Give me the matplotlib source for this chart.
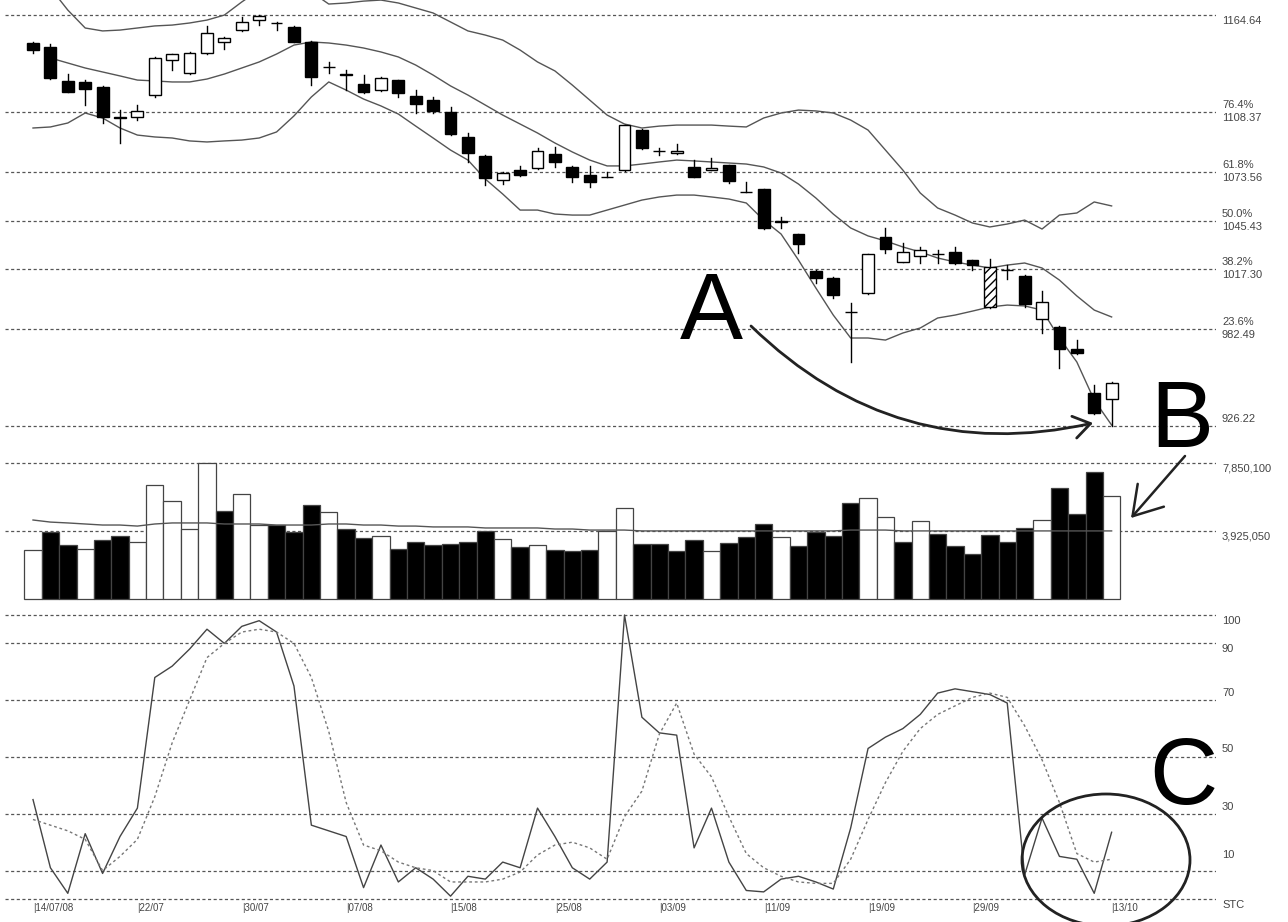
import numpy as np
import matplotlib
matplotlib.use('Agg')
import matplotlib.pyplot as plt
from matplotlib.patches import Rectangle, Ellipse

FONT = ['Liberation Sans', 'DejaVu Sans']

# ---- price data (63 sessions) ----
opens = [1148.4, 1146.1, 1126.4, 1125.8, 1122.9, 1105.2, 1105.5, 1118.2, 1138.5, 1131.0,
         1142.6, 1149.0, 1155.9, 1161.7, 1160.0, 1157.7, 1149.0, 1134.5, 1130.4, 1124.6,
         1121.1, 1126.9, 1117.7, 1115.3, 1108.4, 1093.9, 1082.9, 1068.9, 1074.7, 1075.9,
         1084.0, 1076.5, 1071.8, 1070.9, 1074.7, 1097.9, 1085.8, 1084.4, 1076.5, 1075.0,
         1077.6, 1062.2, 1063.7, 1045.2, 1037.6, 1016.2, 1012.1, 992.4, 1003.4, 1035.9,
         1021.4, 1024.9, 1026.0, 1027.2, 1022.5, 995.3, 1016.9, 1013.3, 988.3, 983.7,
         970.9, 945.4, 941.9]
highs = [1149.0, 1147.8, 1130.4, 1126.9, 1123.3, 1109.5, 1112.4, 1140.0, 1142.3, 1142.9,
         1158.3, 1151.6, 1163.5, 1164.64, 1160.6, 1158.0, 1149.6, 1137.4, 1132.7, 1129.8,
         1128.4, 1127.2, 1121.1, 1117.1, 1111.3, 1096.2, 1083.2, 1073.3, 1077.1, 1087.5,
         1088.1, 1076.8, 1077.1, 1073.6, 1101.1, 1098.5, 1087.5, 1089.8, 1080.5, 1081.7,
         1077.9, 1067.8, 1064.0, 1047.5, 1037.9, 1016.5, 1012.4, 997.6, 1026.3, 1041.1,
         1032.4, 1030.1, 1028.3, 1030.1, 1022.8, 1023.1, 1019.6, 1013.6, 1004.6, 984.0,
         976.1, 950.0, 951.5]
lows = [1142.6, 1127.8, 1119.7, 1112.4, 1102.0, 1090.4, 1103.7, 1117.1, 1132.7, 1130.7,
        1142.3, 1144.9, 1155.6, 1158.8, 1155.9, 1148.7, 1124.0, 1131.0, 1121.1, 1119.4,
        1120.8, 1117.1, 1107.8, 1107.8, 1095.3, 1079.4, 1066.0, 1066.6, 1071.5, 1075.6,
        1076.5, 1067.8, 1064.9, 1070.5, 1074.4, 1087.2, 1083.4, 1083.8, 1070.4, 1074.8,
        1067.2, 1061.8, 1040.8, 1041.1, 1026.6, 1009.2, 1000.5, 963.4, 1003.1, 1026.6,
        1021.1, 1020.8, 1020.8, 1020.5, 1016.7, 994.8, 1011.5, 995.3, 980.2, 959.9,
        968.3, 933.5, 926.22]
closes = [1144.3, 1128.1, 1120.0, 1121.7, 1105.5, 1104.9, 1108.9, 1139.7, 1142.0, 1142.6,
          1154.2, 1151.3, 1160.6, 1164.1, 1160.2, 1149.0, 1128.7, 1134.2, 1130.1, 1120.0,
          1128.1, 1119.4, 1113.0, 1108.9, 1095.6, 1084.6, 1070.1, 1073.0, 1071.8, 1085.8,
          1079.4, 1070.7, 1067.8, 1070.7, 1100.8, 1087.5, 1085.7, 1085.5, 1070.7, 1076.0,
          1068.4, 1062.0, 1041.1, 1044.6, 1031.8, 1012.1, 1002.2, 992.2, 1026.0, 1028.9,
          1027.2, 1028.3, 1025.8, 1020.8, 1019.6, 1018.5, 1016.7, 997.3, 997.9, 970.9,
          968.6, 933.8, 951.2]
hatched = [55]

# bollinger bands
bb_upper = [1193.6, 1180.3, 1167.5, 1157.1, 1155.4, 1155.9, 1157.1, 1158.3, 1158.8, 1160.0,
            1161.7, 1164.6, 1172.2, 1179.1, 1183.8, 1182.0, 1178.0, 1171.0, 1171.6, 1172.7,
            1173.3, 1171.6, 1168.7, 1165.8, 1160.6, 1155.4, 1153.0, 1150.1, 1144.3, 1137.4,
            1132.2, 1124.0, 1115.3, 1106.6, 1101.4, 1099.1, 1100.2, 1100.8, 1100.8, 1100.8,
            1100.2, 1099.7, 1104.9, 1107.8, 1109.5, 1109.0, 1107.8, 1103.7, 1097.9, 1086.3,
            1074.7, 1061.4, 1052.7, 1048.6, 1044.0, 1041.7, 1043.4, 1045.7, 1040.5, 1048.6,
            1049.8, 1056.2, 1053.9]
bb_mid = [np.nan, 1139.7, 1136.8, 1133.9, 1131.6, 1129.3, 1126.9, 1126.4, 1125.8, 1125.8,
          1127.5, 1130.4, 1133.9, 1137.4, 1142.0, 1147.2, 1149.0, 1148.4, 1147.2, 1145.5,
          1143.2, 1140.3, 1135.6, 1129.8, 1123.5, 1118.2, 1112.4, 1106.6, 1101.4, 1096.2,
          1090.4, 1085.2, 1080.5, 1077.1, 1077.1, 1078.2, 1079.4, 1080.5, 1080.0, 1079.4,
          1078.8, 1078.2, 1076.5, 1073.0, 1066.6, 1058.5, 1049.2, 1041.1, 1036.5, 1033.6,
          1030.1, 1027.2, 1023.7, 1021.4, 1019.6, 1017.9, 1019.6, 1020.8, 1017.9, 1010.9,
          1001.7, 993.5, 989.5]
bb_lower = [1099.1, 1099.7, 1102.0, 1107.8, 1104.9, 1099.1, 1095.0, 1093.9, 1093.3, 1091.6,
            1091.0, 1091.6, 1092.1, 1093.3, 1096.8, 1106.1, 1117.1, 1125.8, 1121.1, 1115.9,
            1111.9, 1107.2, 1100.2, 1093.3, 1086.3, 1080.5, 1069.5, 1060.8, 1051.5, 1051.5,
            1049.2, 1048.6, 1048.6, 1051.5, 1054.4, 1057.3, 1059.1, 1060.2, 1060.2, 1059.1,
            1057.9, 1055.6, 1045.7, 1037.6, 1022.5, 1006.3, 990.6, 977.3, 977.3, 976.1,
            980.2, 983.1, 988.9, 990.6, 992.9, 995.3, 996.4, 995.9, 993.5, 977.3,
            963.4, 941.3, 926.8]

price_levels = [1164.64, 1108.37, 1073.56, 1045.43, 1017.30, 982.49, 926.22]
fib_pcts = ['', '76.4%', '61.8%', '50.0%', '38.2%', '23.6%', '']

# ---- volume (millions) ----
volume = [2.83, 3.87, 3.12, 2.89, 3.41, 3.64, 3.29, 6.58, 5.66, 4.04,
          7.85, 5.08, 6.06, 4.27, 4.27, 3.87, 5.43, 5.02, 4.04, 3.52,
          3.64, 2.89, 3.29, 3.12, 3.17, 3.29, 3.93, 3.46, 3.00, 3.12,
          2.83, 2.77, 2.83, 3.93, 5.25, 3.17, 3.17, 2.77, 3.41, 2.77,
          3.23, 3.58, 4.33, 3.58, 3.06, 3.87, 3.64, 5.54, 5.83, 4.73,
          3.29, 4.50, 3.75, 3.05, 2.60, 3.69, 3.29, 4.10, 4.56, 6.41,
          4.91, 7.33, 5.95]
volume_ma = [4.56, 4.44, 4.39, 4.33, 4.27, 4.27, 4.21, 4.33, 4.39, 4.39,
             4.39, 4.33, 4.33, 4.33, 4.27, 4.27, 4.27, 4.33, 4.33, 4.27,
             4.27, 4.21, 4.21, 4.16, 4.16, 4.16, 4.10, 4.10, 4.10, 4.10,
             4.04, 4.04, 3.98, 3.98, 3.98, 3.93, 3.93, 3.93, 3.93, 3.93,
             3.93, 3.93, 3.93, 3.93, 3.93, 3.93, 3.93, 3.98, 3.98, 3.98,
             3.93, 3.93, 3.93, 3.93, 3.93, 3.93, 3.93, 3.93, 3.93, 3.93,
             3.93, 3.93, 3.93]
vol_levels = [7.8501, 3.92505]
vol_labels = ['7,850,100', '3,925,050']

# ---- stochastic ----
stoch_k = [35, 11, 2, 23, 9, 22, 32, 78, 82, 88,
           95, 90, 96, 98, 94, 75, 26, 24, 22, 4,
           19, 6, 11, 7, 1, 8, 7, 13, 11, 32,
           22, 11, 7, 13, 100, 64, 58.5, 57.7, 18, 32,
           13, 3, 2.5, 7, 8, 6, 3.5, 25, 53, 57,
           60, 65, 72.5, 74, 73, 72, 69, 8.5, 28.5, 15,
           14, 2, 23.5]
stoch_d = [28, 26, 24, 21, 10, 15, 21, 36, 55, 70,
           85, 90, 94, 95, 94, 90, 78, 59, 34, 19,
           17, 13, 11, 10, 6, 6, 6, 7, 9.5, 15.5,
           19, 20, 18, 14, 29, 38, 58, 69, 51, 43,
           29, 16, 11, 8, 6, 5.5, 5.5, 14, 28, 41,
           52, 60, 65, 68, 71, 72.5, 71, 61, 49, 34,
           16, 13, 14]
stoch_levels = [100, 90, 70, 50, 30, 10, 0]

date_pos = [0, 6, 12, 18, 24, 30, 36, 42, 48, 54, 62]
date_labels = ['|14/07/08', '|22/07', '|30/07', '|07/08', '|15/08', '|25/08',
               '|03/09', '|11/09', '|19/09', '|29/09', '|13/10']

W, H = 1288, 922
fig = plt.figure(figsize=(W / 100, H / 100), dpi=100)
idx = np.arange(len(closes))
GRID = dict(color='#555555', lw=0.9, ls=(0, (2.5, 2)), zorder=0)
LBL = dict(fontsize=8, color='#444444', family=FONT)


def panel(top, bottom):
    ax = fig.add_axes([5 / W, 1 - bottom / H, 1211 / W, (bottom - top) / H])
    for s in ax.spines.values():
        s.set_visible(False)
    ax.set_xticks([])
    ax.set_yticks([])
    ax.set_xlim(-1.61, 68.0)
    ax.patch.set_alpha(0)
    return ax


def rlabel(ax, y, s, dy):
    ax.annotate(s, xy=(1, y), xycoords=ax.get_yaxis_transform(), xytext=(6, dy),
                textcoords='offset pixels', ha='left', va='center', **LBL)


# price panel
ax1 = panel(0, 455)
ax1.set_ylim(909.44, 1173.34)
for lv, pc in zip(price_levels, fib_pcts):
    ax1.axhline(lv, **GRID)
    if pc:
        rlabel(ax1, lv, pc, 7)
        rlabel(ax1, lv, '%.2f' % lv, -6)
rlabel(ax1, price_levels[0], '%.2f' % price_levels[0], -6)
rlabel(ax1, price_levels[-1], '%.2f' % price_levels[-1], 7)

for band in (bb_upper, bb_mid, bb_lower):
    ax1.plot(idx, band, color='#555555', lw=1, zorder=2)

bw = 0.68
for i in idx:
    o, h, l, c = opens[i], highs[i], lows[i], closes[i]
    ax1.plot([i, i], [l, h], color='black', lw=1, zorder=3)
    fc = 'black' if c < o else 'white'
    ax1.add_patch(Rectangle((i - bw / 2, min(o, c)), bw, abs(c - o), facecolor=fc,
                            edgecolor='black', lw=1, zorder=4,
                            hatch='////' if i in hatched else None))

# volume panel
ax2 = panel(455, 601)
ax2.set_ylim(-0.115, 8.312)
for lv, lb in zip(vol_levels, vol_labels):
    ax2.axhline(lv, **GRID)
    rlabel(ax2, lv, lb, -5)
vcol = ['white'] + ['white' if closes[i] > closes[i - 1] else 'black' for i in idx[1:]]
ax2.bar(idx, volume, width=1.0, color=vcol, edgecolor='#444444', lw=0.9, zorder=2)
ax2.plot(idx, volume_ma, color='#555555', lw=1, zorder=3)

# stochastic panel
ax3 = panel(602, 903)
ax3.set_ylim(-1.41, 104.58)
soff = {100: -6, 90: -6, 70: 7, 50: 8, 30: 7, 10: 16}
for lv in stoch_levels:
    ax3.axhline(lv, **GRID)
    if lv in soff:
        rlabel(ax3, lv, str(lv), soff[lv])
rlabel(ax3, 0, 'STC', -6)
ax3.plot(idx, stoch_k, color='#444444', lw=1, zorder=3)
ax3.plot(idx, stoch_d, color='#777777', lw=1, ls=(0, (2, 2)), zorder=3)
for p, lb in zip(date_pos, date_labels):
    ax3.text(p, 0, lb, transform=ax3.get_xaxis_transform(), ha='left', va='top',
             fontsize=7, color='#444444', family=FONT)

# annotations overlay (pixel coordinates)
ov = fig.add_axes([0, 0, 1, 1], zorder=10)
ov.set_xlim(0, W)
ov.set_ylim(H, 0)
ov.set_axis_off()
big = dict(fontsize=68, family=FONT, color='black', va='baseline', ha='left')
ov.text(680, 339, 'A', **big)
ov.text(1150, 447, 'B', **big)
ov.text(1149, 804, 'C', **big)
ov.annotate('', xy=(1093, 423), xytext=(751, 326),
            arrowprops=dict(arrowstyle='->,head_length=0.3,head_width=0.2',
                            connectionstyle='arc3,rad=0.27', lw=2, color='#222222',
                            mutation_scale=40, shrinkA=0, shrinkB=0))
ov.annotate('', xy=(1131, 518), xytext=(1185, 456),
            arrowprops=dict(arrowstyle='->,head_length=0.4,head_width=0.25',
                            lw=1.8, color='#222222', mutation_scale=50,
                            shrinkA=0, shrinkB=0))
ov.add_patch(Ellipse((1106, 860), 168, 132, fill=False, lw=2, ec='#222222'))

fig.savefig('out.png', dpi=100)
